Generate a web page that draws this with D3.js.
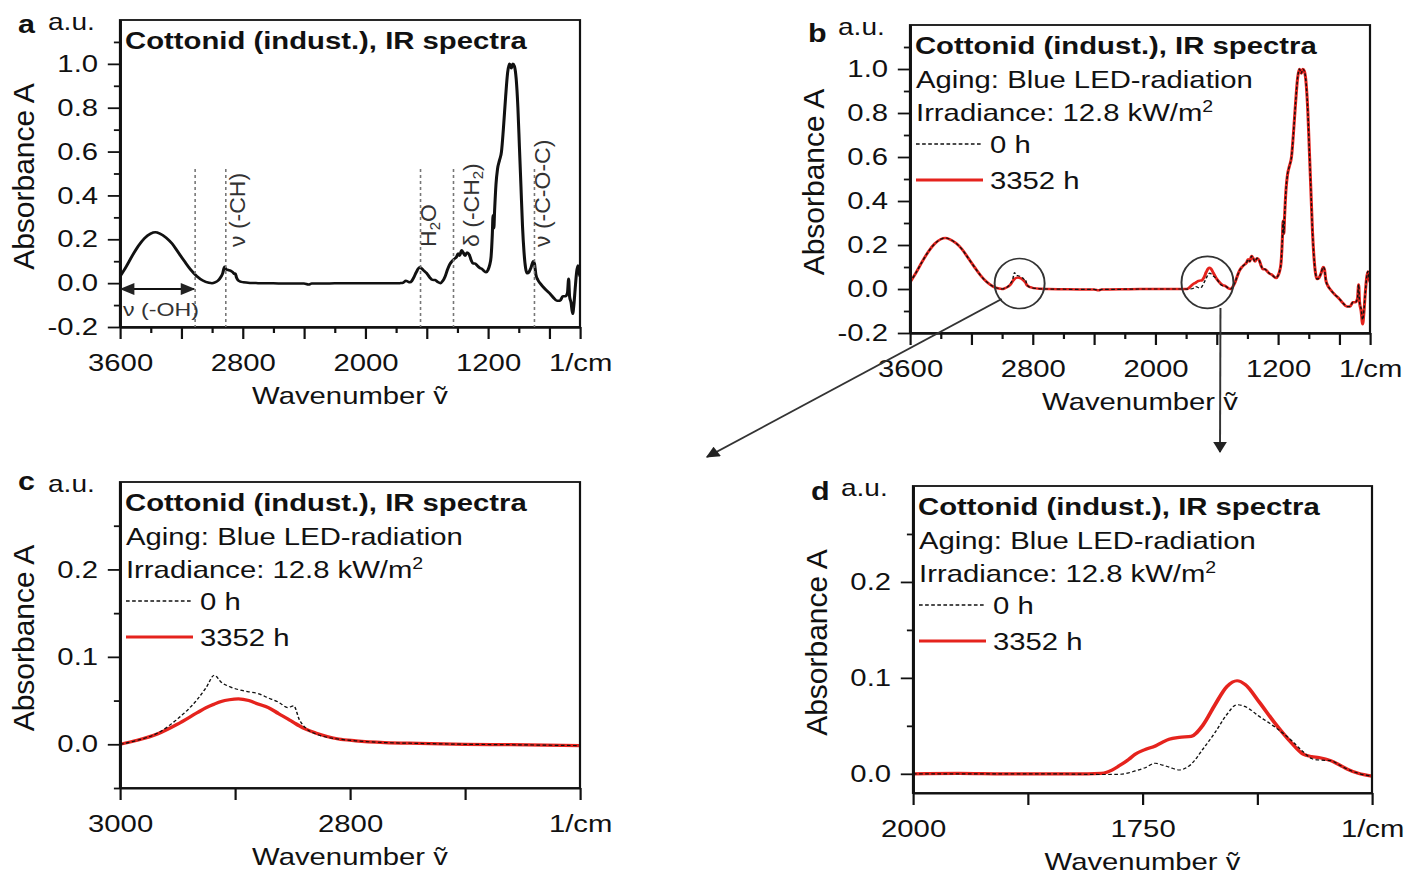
<!DOCTYPE html>
<html>
<head>
<meta charset="utf-8">
<script src="https://cdn.jsdelivr.net/npm/d3@7"></script>
<style>
  body { margin: 0; background: #fff; }
  svg { display: block; }
</style>
</head>
<body>
<script>
// ------------------------------------------------------------
// Cottonid (indust.) IR spectra, panels a-d
// ------------------------------------------------------------

// wide scan (panels a and b)
const wideWn = [3600, 3560, 3520, 3480, 3440, 3400, 3370, 3340, 3300, 3260, 3220, 3180, 3140, 3100, 3060, 3020, 3000,
  2980, 2960, 2945, 2930, 2918, 2908, 2895, 2880, 2865, 2852, 2848, 2840, 2830, 2815, 2795, 2750, 2700, 2600, 2500,
  2400, 2370, 2350, 2300, 2200, 2100, 2000, 1900, 1800, 1788, 1775, 1760, 1748, 1736, 1722, 1710, 1697, 1684, 1667,
  1655, 1645, 1635, 1623, 1601, 1580, 1562, 1545, 1527, 1510, 1495, 1480, 1465, 1450, 1435, 1420, 1405, 1395, 1385,
  1372, 1362, 1350, 1337, 1322, 1310, 1298, 1285, 1270, 1255, 1240, 1225, 1212, 1200, 1190, 1180, 1172, 1167, 1162,
  1157, 1148, 1138, 1125, 1112, 1100, 1085, 1072, 1060, 1048, 1038, 1028, 1016, 1005, 995, 985, 975, 965, 955, 945,
  933, 920, 905, 897, 888, 875, 855, 830, 800, 775, 750, 730, 712, 695, 682, 674, 668, 658, 648, 640, 632, 622, 614,
  606, 600];
const wideAbs0h = [0.03, 0.075, 0.125, 0.17, 0.205, 0.226, 0.232, 0.226, 0.208, 0.18, 0.14, 0.1, 0.062, 0.032, 0.012, 0.002, 0.0,
  0.004, 0.012, 0.025, 0.045, 0.075, 0.063, 0.06, 0.057, 0.05, 0.042, 0.044, 0.025, 0.013, 0.007, 0.004, 0.001, 0.0, -0.001, -0.002,
  -0.002, -0.006, -0.002, -0.002, -0.001, 0, 0, 0, 0, -0.001, 0, 0.001, 0.005, 0.011, 0.007, 0.004, 0.01, 0.026, 0.051,
  0.066, 0.072, 0.068, 0.06, 0.046, 0.026, 0.015, 0.014, 0.005, 0.0, 0.01, 0.03, 0.06, 0.085, 0.1, 0.11, 0.12, 0.135, 0.125,
  0.15, 0.14, 0.125, 0.14, 0.13, 0.105, 0.09, 0.09, 0.08, 0.07, 0.065, 0.055, 0.05, 0.06, 0.08, 0.12, 0.22, 0.31, 0.25,
  0.33, 0.45, 0.52, 0.56, 0.6, 0.7, 0.85, 0.96, 1.0, 0.98, 1.0, 0.99, 0.93, 0.8, 0.62, 0.44, 0.26, 0.14, 0.07, 0.045,
  0.05, 0.07, 0.1, 0.09, 0.04, 0.015, -0.005, -0.025, -0.045, -0.065, -0.08, -0.08, -0.06, -0.06, -0.045, 0.02, -0.06, -0.09, -0.14, -0.1, -0.03, 0.05, 0.08,
  0.05, 0.03];
const wideAbs3352h = [0.03, 0.075, 0.125, 0.17, 0.205, 0.226, 0.232, 0.226, 0.208, 0.18, 0.14, 0.1, 0.062, 0.032, 0.012, 0.002, 0.0,
  0.004, 0.011, 0.02, 0.036, 0.046, 0.05, 0.052, 0.049, 0.043, 0.034, 0.031, 0.02, 0.013, 0.008, 0.004, 0.001, 0.0, -0.001, -0.002,
  -0.002, -0.006, -0.002, -0.002, -0.001, 0, 0, 0, 0, 0.002, 0.009, 0.019, 0.025, 0.029, 0.036, 0.038, 0.039, 0.051, 0.078,
  0.093, 0.097, 0.09, 0.075, 0.047, 0.029, 0.018, 0.014, 0.005, 0.0, 0.01, 0.03, 0.06, 0.085, 0.1, 0.11, 0.12, 0.135, 0.125,
  0.15, 0.14, 0.125, 0.14, 0.13, 0.105, 0.09, 0.09, 0.08, 0.07, 0.065, 0.055, 0.05, 0.06, 0.08, 0.12, 0.22, 0.31, 0.25,
  0.33, 0.45, 0.52, 0.56, 0.6, 0.7, 0.85, 0.96, 1.0, 0.98, 1.0, 0.99, 0.93, 0.8, 0.62, 0.44, 0.26, 0.14, 0.07, 0.045,
  0.05, 0.07, 0.1, 0.09, 0.04, 0.015, -0.005, -0.025, -0.045, -0.065, -0.08, -0.08, -0.06, -0.06, -0.045, 0.02, -0.06, -0.1, -0.16, -0.11, -0.03, 0.05, 0.08,
  0.05, 0.03];

// zoom on the C-H stretch (panel c)
const chWn = [3000, 2985, 2967, 2950, 2933, 2925, 2918, 2912, 2905, 2897, 2888, 2880, 2871, 2862, 2854, 2849, 2844, 2838,
  2830, 2820, 2810, 2795, 2770, 2740, 2700, 2660, 2630, 2600];
const chAbs0h = [0, 0.0045, 0.013, 0.029, 0.051, 0.065, 0.079, 0.071, 0.066, 0.0625, 0.06, 0.058, 0.053, 0.048, 0.042, 0.044,
  0.028, 0.018, 0.012, 0.008, 0.006, 0.004, 0.002, 0.001, 0.0, -0.0005, -0.001, -0.0015];
const chAbs3352h = [0, 0.0045, 0.012, 0.023, 0.036, 0.042, 0.046, 0.049, 0.051, 0.052, 0.05, 0.046, 0.042, 0.035, 0.029, 0.025,
  0.021, 0.017, 0.013, 0.009, 0.006, 0.004, 0.002, 0.001, 0.0, -0.0005, -0.001, -0.0015];

// zoom on the water / carbonyl region (panel d)
const h2oWn = [2000, 1950, 1900, 1850, 1810, 1795, 1788, 1775, 1765, 1758, 1748, 1736, 1728, 1721, 1710, 1697, 1684, 1671,
  1658, 1647, 1638, 1623, 1606, 1588, 1575, 1566, 1558, 1545, 1535, 1527, 1515, 1500];
const h2oAbs0h = [0, 0, 0, 0, -0.0005, -0.0007, -0.0007, -0.0005, 0.001, 0.003, 0.006, 0.011, 0.009, 0.007, 0.004, 0.01, 0.026,
  0.043, 0.062, 0.072, 0.07, 0.06, 0.049, 0.035, 0.023, 0.016, 0.0144, 0.0137, 0.009, 0.005, 0.0005, -0.0025];
const h2oAbs3352h = [0, 0.0005, 0, 0, 0, 0.0005, 0.002, 0.0086, 0.015, 0.0205, 0.025, 0.029, 0.033, 0.036, 0.038, 0.039, 0.051,
  0.072, 0.091, 0.097, 0.093, 0.075, 0.053, 0.0325, 0.0205, 0.018, 0.017, 0.0137, 0.009, 0.005, 0.0005, -0.0025];

// axis ticks
const wideXMajor = [3600, 3200, 2800, 2400, 2000, 1600, 1200, 800, 600];
const wideXMinor = [3400, 3000, 2600, 2200, 1800, 1400, 1000];
const wideXLabels = [3600, 2800, 2000, 1200];
const wideYMajor = [-0.2, 0, 0.2, 0.4, 0.6, 0.8, 1.0];
const wideYMinor = [-0.1, 0.1, 0.3, 0.5, 0.7, 0.9, 1.1];
const chXMajor = [3000, 2900, 2800, 2700, 2600];
const chXLabels = [3000, 2800];
const h2oXMajor = [2000, 1875, 1750, 1625, 1500];
const h2oXLabels = [2000, 1750];
const zoomYMajor = [0, 0.1, 0.2];
const zoomYMinor = [0.05, 0.15, 0.25];

// band assignments in panel a
const bandWn = [3110, 2910, 1640, 1425, 897];
const bandLabels = [null, ['ν (-CH)'], ['H', '2', 'O'], ['δ (-CH', '2', ')'], ['ν (-C-O-C)']];

// texts
const titleText = 'Cottonid (indust.), IR spectra';
const agingText = 'Aging: Blue LED-radiation';
const irradianceText = 'Irradiance: 12.8 kW/m';
const legendLabels = ['0 h', '3352 h'];
const yTitle = 'Absorbance A';
const xTitle = 'Wavenumber ṽ';
const unitLabel = '1/cm';

// ------------------------------------------------------------
const K = 1.22;              // source figure is stretched horizontally
const W = 1406, H = 877;
const FONT = "'Liberation Sans', Arial, Helvetica, sans-serif";
const RED = '#e5231d';
const INK = '#111';
const px = v => v / K;       // screen x -> svg units

const svg = d3.select('body').append('svg')
  .attr('width', W).attr('height', H)
  .attr('viewBox', `0 0 ${W / K} ${H}`)
  .attr('preserveAspectRatio', 'none')
  .style('font-family', FONT);

const defs = svg.append('defs');
function marker(id, w, h) {
  defs.append('marker')
    .attr('id', id)
    .attr('viewBox', '0 0 10 10')
    .attr('refX', 9).attr('refY', 5)
    .attr('markerWidth', w).attr('markerHeight', h)
    .attr('orient', 'auto-start-reverse')
    .append('path').attr('d', 'M0,0 L10,5 L0,10 z').attr('fill', '#222');
}
marker('arrow', 10, 7);
marker('arrowSmall', 8, 6);

function label(g, x, y, s, size, opt = {}) {
  return g.append('text')
    .attr('x', px(x)).attr('y', y)
    .attr('font-size', size)
    .attr('font-weight', opt.bold ? 'bold' : null)
    .attr('text-anchor', opt.anchor || 'start')
    .attr('fill', opt.fill || INK)
    .text(s);
}

function styleAxis(sel) {
  sel.attr('font-family', FONT).attr('font-size', 24);
  sel.select('.domain').attr('stroke', INK).attr('stroke-width', 2);
  sel.selectAll('.tick line').attr('stroke', INK).attr('stroke-width', 1.8);
  sel.selectAll('.tick text').attr('fill', INK);
}

function drawPanel(p) {
  const { l, r, t, b } = p.box;
  const xScale = d3.scaleLinear().domain(p.xDomain).range([px(l), px(r)]);
  const yScale = d3.scaleLinear().domain(p.yDomain).range([b, t]);
  const g = svg.append('g');

  const clipId = 'clip-' + p.id;
  defs.append('clipPath').attr('id', clipId)
    .append('rect').attr('x', px(l)).attr('y', t).attr('width', px(r - l)).attr('height', b - t);

  // spectra
  const line = d3.line()
    .x(d => xScale(d[0])).y(d => yScale(d[1]))
    .curve(d3.curveMonotoneX);
  p.series.forEach(s => {
    g.append('path')
      .datum(s.wn.map((w, i) => [w, s.abs[i]]))
      .attr('clip-path', `url(#${clipId})`)
      .attr('fill', 'none')
      .attr('stroke', s.color)
      .attr('stroke-width', s.width)
      .attr('stroke-dasharray', s.dash || null)
      .attr('stroke-linejoin', 'round')
      .attr('d', line);
  });

  // frame
  g.append('rect')
    .attr('x', px(l)).attr('y', t).attr('width', px(r - l)).attr('height', b - t)
    .attr('fill', 'none').attr('stroke', INK).attr('stroke-width', 1.8);

  // x axis
  const xEnd = p.xDomain[1];
  g.append('g').attr('transform', `translate(0,${b})`)
    .call(d3.axisBottom(xScale).tickValues(p.xMajor).tickSize(12).tickSizeOuter(0).tickPadding(15)
      .tickFormat(d => d === xEnd ? unitLabel : (p.xLabels.includes(d) ? String(d) : '')))
    .call(styleAxis);
  if (p.xMinor) {
    g.append('g').attr('transform', `translate(0,${b})`)
      .call(d3.axisBottom(xScale).tickValues(p.xMinor).tickSize(6).tickSizeOuter(0).tickFormat(''))
      .call(styleAxis);
  }

  // y axis
  g.append('g').attr('transform', `translate(${px(l)},0)`)
    .call(d3.axisLeft(yScale).tickValues(p.yMajor).tickSize(10).tickSizeOuter(0).tickPadding(8)
      .tickFormat(d => d.toFixed(1)))
    .call(styleAxis);
  g.append('g').attr('transform', `translate(${px(l)},0)`)
    .call(d3.axisLeft(yScale).tickValues(p.yMinor).tickSize(5).tickSizeOuter(0).tickFormat(''))
    .call(styleAxis);

  // axis titles, panel letter, unit
  g.append('text')
    .attr('transform', `translate(${px(l - 86)},${(t + b) / 2 + 3}) rotate(-90) scale(1,0.8)`)
    .attr('text-anchor', 'middle').attr('font-size', 30).attr('fill', INK)
    .text(yTitle);
  label(g, (l + r) / 2, b + 77, xTitle, 24, { anchor: 'middle' });
  label(g, l - 102, t + p.letterDy, p.id, 25, { bold: true });
  label(g, l - 72, t + 10, 'a.u.', 23);

  // header texts
  label(g, l + 5, t + 29, titleText, 24, { bold: true });
  if (p.legend) {
    label(g, l + 6, t + 63, agingText, 24);
    const irr = label(g, l + 6, t + 96, irradianceText, 24);
    irr.append('tspan').attr('dy', -9).attr('font-size', 16).text('2');
    p.series.slice().reverse().forEach((s, i) => {
      const ly = t + 119 + i * 36;
      g.append('line')
        .attr('x1', px(l + 6)).attr('x2', px(l + 73))
        .attr('y1', ly).attr('y2', ly)
        .attr('stroke', s.color)
        .attr('stroke-width', s.dash ? 1.4 : 3)
        .attr('stroke-dasharray', s.dash || null);
      label(g, l + 80, ly + 9, legendLabels[i], 24);
    });
  }
  return { xScale, yScale, g };
}

// ---------------- panel a ----------------
const pa = drawPanel({
  id: 'a', box: { l: 120, r: 580, t: 20, b: 327 }, letterDy: 13,
  xDomain: [3600, 600], yDomain: [-0.2, 1.2],
  xMajor: wideXMajor, xMinor: wideXMinor, xLabels: wideXLabels,
  yMajor: wideYMajor, yMinor: wideYMinor,
  series: [{ wn: wideWn, abs: wideAbs0h, color: INK, width: 2.5 }]
});

// band markers
const bandOffsets = [0, 19, 15, 25, 16];
bandWn.forEach((w, i) => {
  pa.g.append('line')
    .attr('x1', pa.xScale(w)).attr('x2', pa.xScale(w))
    .attr('y1', pa.yScale(0.52)).attr('y2', pa.yScale(-0.2))
    .attr('stroke', '#777').attr('stroke-width', 1.3).attr('stroke-dasharray', '3,3');
  if (!bandLabels[i]) return;
  const t = pa.g.append('text')
    .attr('transform', `translate(${pa.xScale(w) + px(bandOffsets[i])},${pa.yScale(0.165)}) rotate(-90) scale(1,0.8)`)
    .attr('font-size', 23).attr('fill', '#333');
  bandLabels[i].forEach((part, j) => {
    const sub = part === '2';
    t.append('tspan')
      .attr('font-size', sub ? 15 : null)
      .attr('dy', sub ? 5 : (j > 0 ? -5 : null))
      .text(part);
  });
});

// O-H stretch range arrow
pa.g.append('line')
  .attr('x1', pa.xScale(3600) + 1).attr('x2', pa.xScale(3110) - 1)
  .attr('y1', pa.yScale(-0.027)).attr('y2', pa.yScale(-0.027))
  .attr('stroke', INK).attr('stroke-width', 2)
  .attr('marker-start', 'url(#arrowSmall)').attr('marker-end', 'url(#arrowSmall)');
label(pa.g, 123, 316, 'ν (-OH)', 19, { fill: '#333' });

// ---------------- panel b ----------------
const pb = drawPanel({
  id: 'b', box: { l: 910, r: 1370, t: 25, b: 333 }, letterDy: 17,
  xDomain: [3600, 600], yDomain: [-0.2, 1.2],
  xMajor: wideXMajor, xMinor: wideXMinor, xLabels: wideXLabels,
  yMajor: wideYMajor, yMinor: wideYMinor, legend: true,
  series: [
    { wn: wideWn, abs: wideAbs3352h, color: RED, width: 2.5 },
    { wn: wideWn, abs: wideAbs0h, color: INK, width: 1.2, dash: '3,2' }
  ]
});

// ---------------- panel c ----------------
drawPanel({
  id: 'c', box: { l: 120, r: 580, t: 482, b: 788 }, letterDy: 8,
  xDomain: [3000, 2600], yDomain: [-0.05, 0.3],
  xMajor: chXMajor, xLabels: chXLabels,
  yMajor: zoomYMajor, yMinor: zoomYMinor.concat([-0.05]), legend: true,
  series: [
    { wn: chWn, abs: chAbs3352h, color: RED, width: 3.2 },
    { wn: chWn, abs: chAbs0h, color: INK, width: 1.2, dash: '3,2' }
  ]
});

// ---------------- panel d ----------------
drawPanel({
  id: 'd', box: { l: 913, r: 1372, t: 486, b: 793 }, letterDy: 14,
  xDomain: [2000, 1500], yDomain: [-0.02, 0.3],
  xMajor: h2oXMajor, xLabels: h2oXLabels,
  yMajor: zoomYMajor, yMinor: zoomYMinor, legend: true,
  series: [
    { wn: h2oWn, abs: h2oAbs3352h, color: RED, width: 3.2 },
    { wn: h2oWn, abs: h2oAbs0h, color: INK, width: 1.2, dash: '3,2' }
  ]
});

// ---------------- zoom callouts on panel b ----------------
const callouts = [
  { wn: 2885, a: 0.025, r: 25, to: [707, 457], from: [-0.72, 0.62] },
  { wn: 1660, a: 0.03, r: 26, to: [1220, 452], from: [0.5, 0.98] }
];
callouts.forEach(c => {
  const cx = pb.xScale(c.wn), cy = pb.yScale(c.a);
  pb.g.append('ellipse')
    .attr('cx', cx).attr('cy', cy)
    .attr('rx', px(c.r)).attr('ry', c.r)
    .attr('fill', 'none').attr('stroke', '#333').attr('stroke-width', 1.6);
  const sx = cx + px(c.r * c.from[0]), sy = cy + c.r * c.from[1];
  pb.g.append('line')
    .attr('x1', sx).attr('y1', sy)
    .attr('x2', px(c.to[0])).attr('y2', c.to[1])
    .attr('stroke', '#333').attr('stroke-width', 1.6)
    .attr('marker-end', 'url(#arrow)');
});
</script>
</body>
</html>
